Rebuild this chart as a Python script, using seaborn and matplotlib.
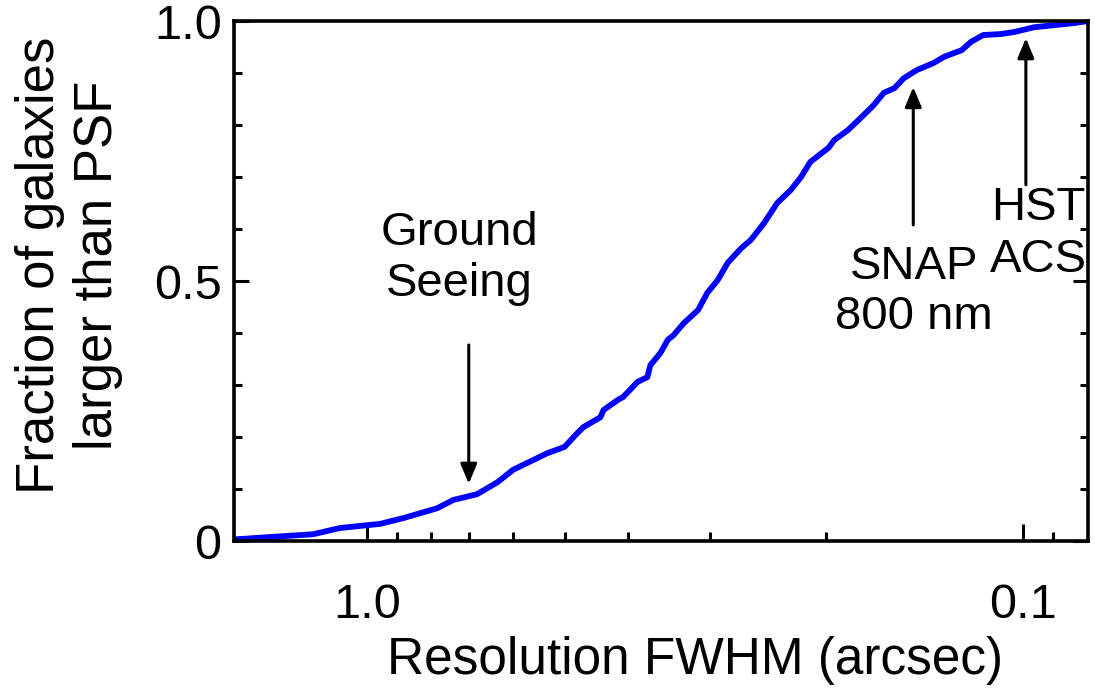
import numpy as np
import pandas as pd
import matplotlib
matplotlib.use("Agg")
import matplotlib.pyplot as plt
from matplotlib.ticker import FixedLocator, NullFormatter
import seaborn as sns

# Cumulative fraction of galaxies resolved at a given PSF FWHM
resolution_arcsec = [1.596, 1.392, 1.209, 1.100, 0.955, 0.881, 0.782, 0.739, 0.680,
                     0.633, 0.599, 0.531, 0.500, 0.481, 0.468, 0.441, 0.436, 0.415,
                     0.407, 0.387, 0.374, 0.370, 0.357, 0.348, 0.341, 0.329, 0.313,
                     0.303, 0.292, 0.282, 0.269, 0.260, 0.248, 0.237, 0.226, 0.218,
                     0.211, 0.198, 0.194, 0.185, 0.177, 0.169, 0.163, 0.157, 0.152,
                     0.145, 0.137, 0.132, 0.124, 0.120, 0.115, 0.108, 0.103, 0.0962,
                     0.0897, 0.0836, 0.0796]
fraction_larger = [0.003, 0.008, 0.013, 0.025, 0.033, 0.044, 0.063, 0.079, 0.090,
                   0.113, 0.137, 0.169, 0.181, 0.204, 0.219, 0.238, 0.252, 0.271,
                   0.277, 0.306, 0.315, 0.338, 0.362, 0.387, 0.396, 0.419, 0.444,
                   0.477, 0.502, 0.535, 0.563, 0.579, 0.612, 0.650, 0.675, 0.700,
                   0.729, 0.756, 0.771, 0.790, 0.813, 0.838, 0.862, 0.871, 0.890,
                   0.906, 0.919, 0.931, 0.944, 0.960, 0.973, 0.975, 0.979, 0.988,
                   0.992, 0.996, 1.000]

# Reference resolutions marked with arrows: (x, tail fraction, tip fraction)
ground_seeing = (0.70, 0.377, 0.110)
snap_800nm = (0.147, 0.608, 0.873)
hst_acs = (0.099, 0.685, 0.967)

x_major = [1.0, 0.1]
x_major_labels = ["1.0", "0.1"]
x_minor = [0.9, 0.8, 0.7, 0.6, 0.5, 0.4, 0.3, 0.2, 0.09]
y_major = [0.0, 0.5, 1.0]
y_major_labels = ["0", "0.5", "1.0"]
y_minor = [0.1, 0.2, 0.3, 0.4, 0.6, 0.7, 0.8, 0.9]

df = pd.DataFrame({"fwhm": resolution_arcsec, "frac": fraction_larger})

sns.set_theme(style="ticks")
plt.rcParams["font.family"] = ["Liberation Sans", "DejaVu Sans"]
plt.rcParams.update({
    "text.color": "black",
    "axes.labelcolor": "black",
    "xtick.color": "black",
    "ytick.color": "black",
    "xtick.labelcolor": "black",
    "ytick.labelcolor": "black",
})

fig = plt.figure(figsize=(10.95, 6.89), dpi=100)
ax = fig.add_axes([0.2137, 0.2148, 0.7799, 0.7547])

sns.lineplot(data=df, x="fwhm", y="frac", estimator=None, sort=False,
             color="#0000ff", linewidth=4.2, ax=ax)

ax.set_xscale("log")
ax.set_xlim(1.596, 0.0796)
ax.set_ylim(0, 1.0)

ax.xaxis.set_major_locator(FixedLocator(x_major))
ax.set_xticklabels(x_major_labels)
ax.xaxis.set_minor_locator(FixedLocator(x_minor))
ax.xaxis.set_minor_formatter(NullFormatter())
ax.yaxis.set_major_locator(FixedLocator(y_major))
ax.set_yticklabels(y_major_labels)
ax.yaxis.set_minor_locator(FixedLocator(y_minor))

for side in ["left", "right", "top", "bottom"]:
    ax.spines[side].set_linewidth(2.6)
    ax.spines[side].set_color("black")

ax.tick_params(axis="both", which="both", direction="in", width=2.2, color="black",
               labelcolor="black")
ax.tick_params(axis="y", which="major", length=11, labelsize=35, pad=9, right=True)
ax.tick_params(axis="y", which="minor", length=6, right=True)
ax.tick_params(axis="x", which="major", length=12, labelsize=35, pad=30, top=False)
ax.tick_params(axis="x", which="minor", length=6.5, top=False)

ax.set_xlabel("Resolution FWHM (arcsec)", fontsize=37, color="black")
ax.xaxis.set_label_coords(0.54, -0.183)
ax.set_ylabel("Fraction of galaxies\nlarger than PSF", fontsize=38, linespacing=1.2,
              color="black")
ax.yaxis.set_label_coords(-0.13, 0.53)

arrow_kw = dict(arrowstyle="-|>,head_length=0.6,head_width=0.25",
                color="black", lw=2.2, mutation_scale=20, shrinkA=0, shrinkB=0)
for xv, y_tail, y_tip in (ground_seeing, snap_800nm, hst_acs):
    ax.annotate("", xy=(xv, y_tip), xytext=(xv, y_tail), arrowprops=arrow_kw)

ax.text(0.724, 0.544, "Ground\nSeeing", fontsize=34, ha="center", va="center",
        linespacing=1.2, color="black")
ax.text(0.1465, 0.479, "SNAP\n800 nm", fontsize=34, ha="center", va="center",
        linespacing=1.18, color="black")
ax.text(0.0948, 0.590, "HST\nACS", fontsize=34, ha="center", va="center",
        linespacing=1.22, color="black")

fig.savefig("out.png", dpi=100)
